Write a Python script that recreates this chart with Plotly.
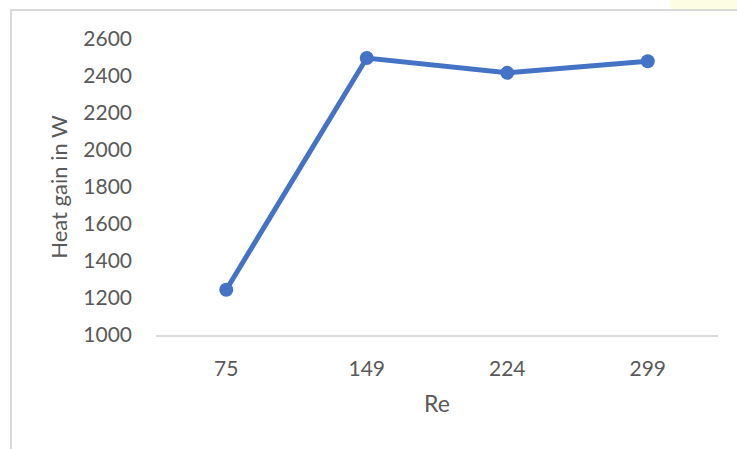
import plotly.graph_objects as go

# Heat gain versus Reynolds number
re_labels = ["75", "149", "224", "299"]
heat_gain = [1245, 2497, 2417, 2480]

y_ticks = [1000, 1200, 1400, 1600, 1800, 2000, 2200, 2400, 2600]

line_blue = "#4472C4"
text_grey = "#595959"
frame_grey = "#D9D9D9"
font_family = "Lato, 'Open Sans', sans-serif"

fig = go.Figure()
fig.add_trace(go.Scatter(
    x=re_labels,
    y=heat_gain,
    mode="lines+markers",
    line=dict(color=line_blue, width=5),
    marker=dict(color=line_blue, size=14),
    showlegend=False,
    cliponaxis=False,
))

fig.update_layout(
    width=737,
    height=449,
    margin=dict(l=156, r=19, t=39, b=114),
    paper_bgcolor="white",
    plot_bgcolor="white",
    font=dict(family=font_family, color=text_grey, size=21),
    xaxis=dict(
        type="category",
        range=[-0.5, len(re_labels) - 0.5],
        showgrid=False,
        showline=True,
        linecolor=frame_grey,
        linewidth=2,
        ticks="",
        ticklabelstandoff=14,
        tickfont=dict(size=21, color=text_grey),
        title=dict(text="Re", font=dict(size=23, color=text_grey), standoff=17),
        zeroline=False,
    ),
    yaxis=dict(
        range=[1000, 2600],
        tickvals=y_ticks,
        showgrid=False,
        showline=False,
        ticks="",
        ticklabelstandoff=23,
        tickfont=dict(size=21, color=text_grey),
        title=dict(text="Heat gain in W", font=dict(size=22, color=text_grey), standoff=9),
        zeroline=False,
    ),
    shapes=[
        # pale yellow strip outside the chart frame, top right
        dict(type="rect", xref="paper", yref="paper",
             x0=(670 - 156) / 562, x1=1.1, y0=(335 - 10) / 296, y1=1.2,
             fillcolor="#FDFDE4", line=dict(width=0), layer="below"),
        # chart frame
        dict(type="rect", xref="paper", yref="paper",
             x0=(11 - 156) / 562, x1=1.2, y0=-0.6, y1=(335 - 10) / 296,
             fillcolor="rgba(0,0,0,0)", line=dict(color=frame_grey, width=2)),
    ],
)

fig.write_html("out.html")
